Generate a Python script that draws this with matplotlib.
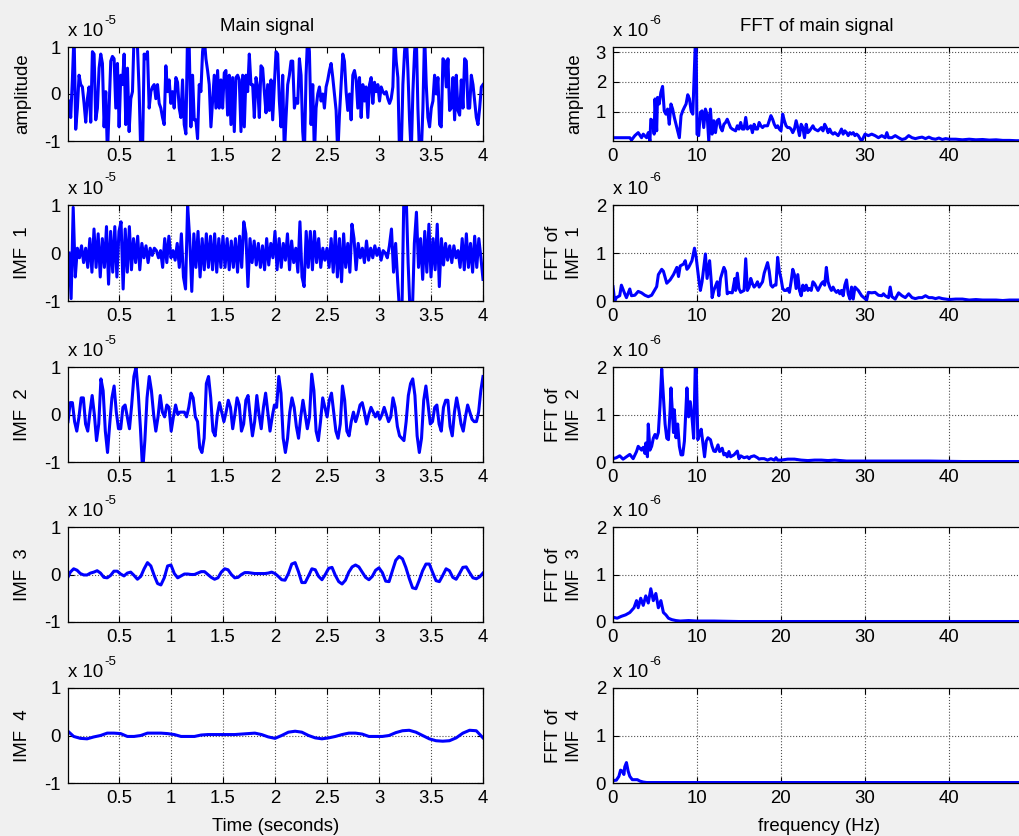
import numpy as np
import matplotlib.pyplot as plt

plt.rcParams['font.family'] = ['Liberation Sans', 'DejaVu Sans']
plt.rcParams['font.size'] = 13.4
plt.rcParams['axes.unicode_minus'] = False

# ---- time signals (units of 1e-5) ----
main_sig = [-0.15, -0.5, 0.3, 1.3, -0.75, -0.3, 0.4, 0.2, 0.15, -0.2,
            -0.6, -0.1, 0.15, -0.6, 0.9, 0.85, -0.55, -0.3, 0.55, 0.85,
            0.65, -0.7, 0.05, -1.3, -0.3, 0.7, 0.8, 0.75, -0.3, 0.65,
            -0.7, 0.4, 0.2, 0.85, -0.65, 0.55, -0.8, -0.1, 0.05, 1.3,
            1.3, 1.0, 0.05, -1.3, -1.3, 0.85, 0.75, 0.9, -0.3, 0.05,
            0.15, 0.2, -0.1, 0.2, -0.2, -0.3, -0.5, -0.65, 0.6, 0.05,
            0.3, -0.2, 0.05, -0.3, 0.35, 0.25, -0.3, -0.5, 0.3, -0.65,
            -0.85, 1.3, 1.0, -0.7, 0.4, -0.55, -0.55, -0.95, 0.2, 0.05,
            0.9, 1.2, 0.75, 0.5, 0.2, -0.7, -0.15, 0.4, -0.3, 0.5,
            -0.3, 0.3, -0.3, 0.45, 0.5, -0.45, 0.4, -0.65, 0.35, -0.8,
            0.35, 0.4, 0.3, -0.8, 0.4, -0.7, 0.4, 0.05, 0.85, 0.2,
            0.2, -0.5, 0.35, 0.15, -0.5, 0.6, 0.55, 0.05, -0.4, 0.2,
            -0.35, 0.3, -0.55, 0.2,
            0.9, 0.85, -0.15, -0.7, 0.4, -1.3, -0.5, 0.2, 0.4, 0.7,
            0.7, -0.3, -0.1, -0.2, 0.75, 0.4, -0.8, -1.3, 0.4, 1.3,
            0.9, -0.65, 0.2, -1.3, -0.3, 0.0, 0.15, -0.15, 0.0, -0.3,
            0.15, 0.3, 0.5, 0.65, 0.35, 0.0, -0.35, -1.3, -0.45, 0.2,
            0.85, 0.7, 0.05, -0.35, 0.0, -0.55, 0.4, 0.5, 0.3, -0.3,
            0.35, -0.5, 0.2, -0.15, 0.15, -0.5, 0.2, 0.35, -0.2, 0.25,
            0.05, 0.2, -0.15, 0.15, 0.05, 0.0, 0.05, -0.1, -0.2, -0.1,
            0.15, 1.3, 0.7, 0.35, -1.3, -1.3, 0.2, 0.9, 1.3, 0.5,
            -0.55, -1.3, 0.05, 0.9, 1.3, -0.3, -1.3, -1.3, -0.3, 1.3,
            0.2, -0.5, -0.7, -0.3, -0.15, 0.4, 0.0, 0.35, -0.65, -0.7,
            0.75, 0.7, 0.15, 0.75, -0.35, -0.3, 0.35, -0.55, 0.4, -0.35,
            -0.45, 0.3, -0.3, 0.75, 0.7, -0.3, -0.3, 0.4, 0.2, -0.15,
            -0.5, -0.65, -0.3, 0.15, 0.2]

imf1 = [0.0, -0.95, 0.95, -0.5, 0.1, -0.1, 0.15, -0.2, 0.1, -0.3,
        0.3, -0.4, 0.5, -0.3, 0.4, -0.5, 0.3, -0.3, 0.55, -0.65,
        0.45, -0.4, 0.55, -0.5, 0.45, 0.65, -0.75, 0.5, -0.4, 0.55,
        -0.35, 0.3, -0.2, 0.35, -0.35, 0.2, -0.1, 0.15, -0.2, 0.1,
        -0.05, 0.1, 0.05, -0.1, 0.05, -0.3, 0.3, -0.2, 0.35, -0.1,
        0.05, -0.15, 0.2, -0.3, 0.4, -0.5, -0.75, 1.0, 0.3, -0.8,
        0.4, -0.3, 0.45, -0.5, 0.3, -0.35, 0.4, -0.3, 0.35, -0.35,
        0.4, -0.4, 0.3, -0.3, 0.35, -0.3, 0.3, -0.35, 0.25, -0.3,
        0.3, -0.4, 0.35, -0.3, 0.65, 0.4, -0.7, 0.3, -0.2, 0.25,
        -0.25, 0.2, -0.3, 0.15, -0.35, 0.3, -0.25, 0.2, -0.1, 0.45,
        -0.35, 0.3, -0.3, 0.2, -0.15, 0.4, -0.35, 0.25, -0.2, 0.1,
        -0.4, 0.65, -0.5, -0.7, 0.45, -0.3, 0.45, -0.35, 0.45, -0.2,
        0.3, -0.3, 0.1, -0.15, 0.1, -0.3, 0.3, -0.4, 0.45, -0.5,
        0.3, -0.6, 0.4, -0.3, 0.2, -0.4, 0.6, 0.3, -0.35, 0.2,
        -0.1, 0.1, -0.2, 0.25, -0.15, 0.1, -0.1, 0.15, -0.05, 0.1,
        -0.15, 0.05, 0.0, -0.1, 0.15, 0.5, -0.4, 0.2, -0.6, -1.3,
        -1.3, 1.3, 1.3, -0.2, -1.3, -1.3, 0.2, 0.85, -0.3, 0.3,
        -0.55, 0.45, -0.4, 0.6, -0.5, 0.3, -0.35, 0.6, -0.7, 0.3,
        -0.25, 0.2, -0.15, 0.15, -0.2, 0.15, -0.1, 0.05, -0.3, 0.3,
        -0.35, 0.4, -0.3, 0.2, -0.4, 0.35, -0.3, 0.3, -0.1, -0.55]

imf2 = [-0.15, 0.25, 0.25, -0.15, -0.35, -0.05, 0.35, 0.35, -0.2, -0.35,
        0.05, 0.4, 0.0, -0.55, -0.2, 0.75, 0.5, -0.35, -0.8, -0.2,
        0.35, 0.6, 0.05, -0.3, -0.3, 0.15, 0.2, -0.05, -0.3, 0.2,
        0.8, 1.0, 0.45, -0.3, -1.2, -0.55, 0.35, 0.8, 0.5, 0.0,
        -0.35, -0.05, 0.4, 0.05, -0.05, 0.2, 0.15, -0.35, -0.05, 0.2,
        0.0, 0.05, 0.05, 0.05, -0.05, 0.15, 0.45, 0.35, -0.05, -0.15,
        -0.7, -0.8, -0.5, 0.65, 0.8, 0.35, -0.35, -0.45, 0.0, 0.25,
        0.05, -0.15, 0.05, 0.3, 0.15, -0.3, 0.0, 0.35, 0.2, -0.35,
        -0.2, 0.3, 0.4, -0.05, -0.45, -0.15, 0.4, 0.0, -0.3, 0.15,
        0.45, 0.05, -0.35, -0.05, 0.2, 0.15, 0.8, 0.45, -0.5, -0.8,
        -0.5, 0.05, 0.35, 0.15, -0.25, -0.5, -0.05, 0.3, 0.0, -0.3,
        -0.05, 0.85, 0.5, -0.35, -0.55, -0.15, 0.35, 0.15, -0.05, 0.3,
        0.45, 0.05, -0.35, -0.5, -0.2, 0.6, 0.3, -0.35, -0.45, -0.15,
        0.05, -0.15, 0.0, 0.2, 0.25, 0.05, -0.2, 0.0, 0.15, 0.05,
        -0.05, 0.05, -0.1, 0.0, 0.15, 0.0, -0.15, -0.05, 0.35, 0.15,
        -0.25, -0.45, -0.5, -0.55, -0.15, 0.4, 0.65, 0.75, 0.4, -0.45,
        -0.8, -0.5, 0.3, 0.6, 0.2, -0.2, -0.15, 0.15, 0.2, -0.2,
        -0.35, 0.15, 0.3, 0.3, -0.25, -0.45, 0.05, 0.35, 0.1, -0.2,
        -0.35, -0.05, 0.2, 0.05, -0.1, -0.15, -0.15, 0.05, 0.5, 0.8]

imf3 = [-0.10, 0.05, 0.12, 0.09, 0.02, -0.01, -0.01, 0.03, 0.05, 0.08,
        0.03, -0.06, -0.07, -0.02, 0.07, 0.07, 0.01, -0.03, 0.03, 0.05,
        -0.02, -0.10, -0.04, 0.12, 0.25, 0.18, -0.02, -0.19, -0.22, -0.07,
        0.18, 0.20, 0.02, -0.07, -0.03, 0.01, 0.01, 0.00, 0.00, 0.03,
        0.06, 0.06, 0.00, -0.06, -0.10, -0.07, 0.05, 0.12, 0.10, 0.00,
        -0.07, -0.06, 0.00, 0.04, 0.04, 0.03, 0.02, 0.02, 0.02, 0.02,
        0.03, 0.05, 0.02, -0.04, -0.11, -0.12, 0.02, 0.22, 0.25, 0.06,
        -0.17, -0.17, -0.03, 0.12, 0.10, -0.04, -0.11, 0.00, 0.13, 0.15,
        -0.02, -0.15, -0.20, -0.12, 0.05, 0.16, 0.20, 0.16, 0.05, -0.06,
        -0.11, -0.04, 0.09, 0.14, 0.04, -0.14, -0.15, 0.08, 0.30, 0.38,
        0.33, 0.15, -0.08, -0.28, -0.30, -0.12, 0.08, 0.22, 0.22, 0.04,
        -0.13, -0.15, -0.02, 0.12, 0.08, -0.06, -0.10, 0.02, 0.15, 0.16,
        0.04, -0.07, -0.09, -0.05, 0.03]

imf4 = [0.11, -0.02, -0.06, -0.07, -0.03, 0.00, 0.05, 0.05, 0.04, -0.02,
        -0.02, 0.00, 0.05, 0.05, 0.05, 0.04, 0.02, -0.02, -0.02, -0.02,
        0.01, 0.02, 0.02, 0.02, 0.02, 0.02, 0.03, 0.04, 0.05, 0.02,
        -0.03, -0.06, 0.00, 0.07, 0.09, 0.07, 0.00, -0.05, -0.07, -0.05,
        -0.02, 0.02, 0.05, 0.05, 0.03, -0.02, -0.02, -0.02, 0.00, 0.06,
        0.10, 0.11, 0.07, 0.00, -0.07, -0.11, -0.12, -0.11, -0.05, 0.05,
        0.11, 0.10, -0.05]

t_main = np.linspace(0.02, 4.0, len(main_sig))
t_imf1 = np.linspace(0.02, 4.0, len(imf1))
t_imf2 = np.linspace(0.01, 4.0, len(imf2))
t_imf3 = np.linspace(0.0, 4.0, len(imf3))
t_imf4 = np.linspace(0.0, 4.0, len(imf4))

# ---- spectra (units of 1e-6) ----
f_main = [0, 2.0, 2.2, 2.6, 3.0, 3.4, 3.6, 4.0, 4.2, 4.4, 4.5, 4.7, 4.9, 5.0,
          5.2, 5.3, 5.5, 5.7, 5.9, 6.1, 6.3, 6.5, 6.7, 6.9, 7.1, 7.3, 7.5,
          7.7, 7.9, 8.1, 8.3, 8.5, 8.7, 8.9, 9.1, 9.3, 9.5, 9.7, 9.8, 9.9,
          10.0, 10.2, 10.4, 10.6, 10.8, 11.0, 11.2, 11.4, 11.6, 11.8, 12.0,
          12.2, 12.4, 12.6, 12.8, 13.0, 13.2, 13.4, 13.6, 14.0, 14.2, 14.6,
          14.8, 15.0, 15.2, 15.4, 15.6, 15.8, 16.0, 16.2, 16.4, 16.6, 16.8,
          17.0, 17.2, 17.4, 17.6, 17.8, 18.0, 18.4, 18.8, 19.0, 19.2, 19.4,
          19.6, 19.8, 20.0, 20.2, 20.4, 20.6, 20.8, 21.0, 21.2, 21.4, 21.6,
          21.8, 22.0, 22.2, 22.4, 22.6, 22.8, 23.0, 23.2, 23.4, 23.8, 24.0,
          24.4, 24.8, 25.0, 25.2, 25.4, 25.6, 25.8, 26.0, 26.2, 26.4, 26.6,
          26.8, 27.0, 27.2, 27.4, 27.6, 27.8, 28.0, 28.2, 28.4, 28.6, 28.8,
          29.0, 29.2, 29.4, 29.6, 29.8, 30.0, 30.4, 30.8, 31.2, 31.6, 32.0,
          32.4, 32.6, 32.8, 33.2, 33.6, 34.0, 34.4, 34.8, 35.2, 35.6, 36.0,
          36.4, 36.8, 37.2, 37.6, 38.0, 38.4, 38.8, 39.2, 39.6, 40.0, 40.8,
          41.6, 42.4, 43.2, 44.0, 44.8, 45.6, 46.4, 47.2, 48.0, 49.0, 50.0]
a_main = [0.13, 0.13, 0.05, 0.2, 0.3, 0.13, 0.25, 0.13, 0.3, 0.02, 0.75, 0.7,
          0.25, 1.43, 0.36, 1.48, 1.26, 1.65, 1.85, 1.03, 0.92, 1.09, 0.58,
          1.26, 1.09, 0.81, 0.58, 0.36, 0.13, 0.87, 1.03, 1.15, 1.26, 1.57,
          1.43, 1.03, 0.92, 2.5, 3.3, 3.3, 0.25, 0.2, 0.98, 1.03, 0.47, 1.09,
          0.92, 0.02, 1.09, 0.25, 0.7, 0.3, 0.7, 0.75, 0.47, 0.36, 0.58, 0.64,
          0.75, 0.47, 0.42, 0.36, 0.53, 0.42, 0.64, 0.42, 0.42, 0.81, 0.42,
          0.47, 0.53, 0.3, 0.58, 0.42, 0.42, 0.64, 0.53, 0.47, 0.53, 0.53,
          0.87, 0.75, 0.58, 0.47, 0.53, 0.42, 0.36, 0.92, 0.7, 0.53, 0.47,
          0.47, 0.42, 0.3, 0.42, 0.7, 0.47, 0.2, 0.58, 0.47, 0.13, 0.58, 0.3,
          0.36, 0.53, 0.42, 0.36, 0.47, 0.36, 0.58, 0.47, 0.3, 0.42, 0.3,
          0.25, 0.3, 0.25, 0.2, 0.3, 0.42, 0.25, 0.36, 0.3, 0.2, 0.3, 0.25,
          0.3, 0.2, 0.25, 0.2, 0.1, 0.02, 0.13, 0.25, 0.2, 0.25, 0.2, 0.13,
          0.2, 0.13, 0.3, 0.13, 0.13, 0.2, 0.13, 0.07, 0.1, 0.2, 0.13, 0.1,
          0.13, 0.15, 0.1, 0.15, 0.1, 0.08, 0.12, 0.07, 0.1, 0.08, 0.08,
          0.06, 0.08, 0.06, 0.07, 0.05, 0.06, 0.04, 0.04, 0.03, 0.03, 0.03]

f_imf1 = [0, 0.2, 0.4, 0.8, 1.0, 1.4, 1.6, 2.0, 2.2, 2.6, 3.0, 3.4, 3.8, 4.2,
          4.6, 4.8, 5.2, 5.4, 5.8, 6.0, 6.4, 6.8, 7.2, 7.6, 7.8, 8.0, 8.4,
          8.6, 8.8, 9.0, 9.4, 9.7, 9.9, 10.2, 10.4, 10.6, 11.0, 11.2, 11.5,
          11.7, 11.8, 12.0, 12.4, 12.6, 12.8, 13.2, 13.4, 13.6, 13.8, 14.2,
          14.5, 14.6, 14.8, 15.0, 15.2, 15.6, 15.8, 16.0, 16.2, 16.4, 16.6,
          16.8, 17.0, 17.2, 17.4, 17.8, 18.0, 18.4, 18.6, 18.8, 19.0, 19.2,
          19.4, 19.6, 19.8, 20.0, 20.2, 20.4, 20.6, 20.8, 21.0, 21.2, 21.4,
          21.6, 21.8, 22.0, 22.2, 22.4, 22.6, 22.8, 23.0, 23.2, 23.4, 23.6,
          23.8, 24.0, 24.2, 24.4, 24.6, 24.8, 25.0, 25.2, 25.4, 25.6, 25.8,
          26.0, 26.2, 26.4, 26.6, 26.8, 27.0, 27.2, 27.4, 27.6, 27.8, 28.0,
          28.2, 28.4, 28.6, 28.8, 29.2, 29.6, 30.0, 30.2, 30.4, 30.8, 31.2,
          31.6, 32.0, 32.2, 32.4, 32.8, 33.0, 33.2, 33.6, 34.0, 34.4, 34.8,
          35.2, 35.6, 36.0, 36.4, 36.8, 37.2, 37.6, 38.0, 38.4, 38.8, 39.2,
          39.6, 40.0, 40.8, 41.6, 42.4, 43.2, 44.0, 44.8, 45.6, 46.4, 47.2,
          48.0, 48.8, 50.0]
a_imf1 = [0.3, 0.0, 0.07, 0.11, 0.33, 0.15, 0.07, 0.25, 0.11, 0.12, 0.2,
          0.17, 0.12, 0.09, 0.12, 0.18, 0.3, 0.55, 0.66, 0.62, 0.37, 0.44,
          0.55, 0.7, 0.51, 0.73, 0.77, 0.84, 0.66, 0.7, 0.84, 1.1, 0.91,
          0.47, 0.22, 0.4, 0.98, 0.47, 0.84, 0.4, 0.07, 0.22, 0.4, 0.11,
          0.47, 0.7, 0.62, 0.15, 0.18, 0.17, 0.47, 0.22, 0.58, 0.26, 0.18,
          0.22, 0.88, 0.22, 0.29, 0.47, 0.36, 0.29, 0.33, 0.4, 0.29, 0.4,
          0.58, 0.8, 0.62, 0.33, 0.29, 0.33, 0.33, 0.91, 0.62, 0.47, 0.26,
          0.22, 0.22, 0.26, 0.18, 0.4, 0.66, 0.55, 0.26, 0.55, 0.22, 0.11,
          0.33, 0.22, 0.33, 0.22, 0.26, 0.22, 0.4, 0.36, 0.29, 0.22, 0.29,
          0.36, 0.4, 0.33, 0.7, 0.4, 0.29, 0.22, 0.29, 0.22, 0.18, 0.22,
          0.15, 0.22, 0.11, 0.33, 0.44, 0.15, 0.04, 0.29, 0.04, 0.29, 0.22,
          0.11, 0.05, 0.02, 0.18, 0.17, 0.18, 0.12, 0.11, 0.15, 0.11, 0.07,
          0.29, 0.09, 0.04, 0.17, 0.11, 0.07, 0.15, 0.07, 0.05, 0.07, 0.07,
          0.11, 0.07, 0.07, 0.05, 0.07, 0.05, 0.04, 0.03, 0.04, 0.04, 0.02,
          0.03, 0.02, 0.02, 0.02, 0.01, 0.02, 0.02, 0.02, 0.02]

f_imf2 = [0, 0.4, 0.8, 1.2, 1.6, 2.0, 2.4, 2.8, 3.0, 3.2, 3.4, 3.6, 3.8, 3.9,
          4.1, 4.2, 4.4, 4.6, 4.8, 5.0, 5.2, 5.4, 5.6, 5.8, 6.0, 6.2, 6.4,
          6.6, 6.8, 6.9, 7.1, 7.2, 7.3, 7.5, 7.7, 7.9, 8.1, 8.3, 8.5, 8.8,
          9.0, 9.2, 9.4, 9.6, 9.8, 9.9, 10.1, 10.3, 10.5, 10.7, 10.9, 11.1,
          11.3, 11.6, 11.8, 12.0, 12.2, 12.5, 12.7, 13.0, 13.2, 13.4, 13.6,
          13.8, 14.0, 14.4, 14.8, 15.0, 15.2, 15.6, 16.0, 16.2, 16.4, 16.8,
          17.2, 17.4, 17.6, 18.0, 18.4, 18.8, 19.2, 19.4, 19.6, 20.0, 20.8,
          21.6, 22.4, 23.2, 24.0, 24.8, 25.6, 26.4, 27.8, 29.6, 31.6, 33.6,
          37.6, 41.6, 45.6, 50.0]
a_imf2 = [0.07, 0.09, 0.13, 0.06, 0.11, 0.16, 0.07, 0.22, 0.33, 0.29, 0.25,
          0.31, 0.18, 0.4, 0.11, 0.8, 0.25, 0.33, 0.5, 0.58, 0.5, 0.62, 1.2,
          1.96, 1.38, 0.8, 0.5, 0.47, 1.1, 1.56, 0.95, 0.62, 1.1, 0.51, 0.8,
          0.33, 0.15, 0.15, 0.44, 1.56, 0.95, 1.27, 0.95, 0.5, 2.05, 2.05,
          0.47, 0.58, 0.69, 0.4, 0.11, 0.44, 0.51, 0.47, 0.33, 0.23, 0.22,
          0.36, 0.22, 0.29, 0.15, 0.18, 0.11, 0.22, 0.11, 0.15, 0.23, 0.07,
          0.13, 0.09, 0.11, 0.07, 0.11, 0.13, 0.09, 0.06, 0.07, 0.07, 0.04,
          0.07, 0.04, 0.09, 0.04, 0.04, 0.06, 0.06, 0.04, 0.03, 0.04, 0.04,
          0.03, 0.04, 0.02, 0.02, 0.02, 0.02, 0.02, 0.01, 0.01, 0.01]

f_imf3 = [0, 0.5, 1.0, 1.5, 2.0, 2.5, 2.8, 3.0, 3.3, 3.6, 3.9, 4.2, 4.5, 4.8,
          5.1, 5.4, 5.7, 6.0, 6.3, 6.6, 7.0, 7.5, 8.0, 9.0, 10.0, 12.0, 15.0,
          20.0, 30.0, 50.0]
a_imf3 = [0.1, 0.08, 0.12, 0.15, 0.2, 0.3, 0.45, 0.3, 0.5, 0.35, 0.55, 0.4,
          0.7, 0.45, 0.6, 0.3, 0.45, 0.2, 0.15, 0.08, 0.05, 0.03, 0.02, 0.03,
          0.02, 0.02, 0.01, 0.01, 0.01, 0.01]

f_imf4 = [0, 0.4, 0.7, 0.9, 1.1, 1.3, 1.4, 1.6, 1.8, 2.0, 2.3, 2.6, 2.9, 3.2,
          3.6, 4.0, 10.0, 50.0]
a_imf4 = [0.05, 0.06, 0.14, 0.27, 0.25, 0.18, 0.34, 0.43, 0.25, 0.14, 0.07,
          0.07, 0.07, 0.04, 0.02, 0.01, 0.01, 0.01]

time_rows = [(t_main, main_sig, 'amplitude'), (t_imf1, imf1, 'IMF  1'),
             (t_imf2, imf2, 'IMF  2'), (t_imf3, imf3, 'IMF  3'),
             (t_imf4, imf4, 'IMF  4')]
freq_rows = [(f_main, a_main, 'amplitude'), (f_imf1, a_imf1, 'FFT of\nIMF  1'),
             (f_imf2, a_imf2, 'FFT of\nIMF  2'), (f_imf3, a_imf3, 'FFT of\nIMF  3'),
             (f_imf4, a_imf4, 'FFT of\nIMF  4')]

W, H = 1020, 836
row_top = [47, 205, 367, 527, 688]
row_bot = [141, 301, 462, 622, 783]

fig = plt.figure(figsize=(W / 100, H / 100), dpi=100, facecolor='#f0f0f0')


def make_ax(x0, x1, top, bot):
    ax = fig.add_axes([x0 / W, 1 - bot / H, (x1 - x0) / W, (bot - top) / H])
    ax.set_facecolor('white')
    for s in ax.spines.values():
        s.set_linewidth(0.9)
        s.set_color('black')
    ax.tick_params(direction='in', top=True, right=True, length=4,
                   width=0.8, pad=5, labelsize=13.4)
    ax.set_axisbelow(True)
    return ax


def style_grid(ax):
    ax.grid(True, linestyle=':', color='#505050', linewidth=0.8)


def exponent(ax, exp, width_px):
    # MATLAB-style "x 10^-5" multiplier above the axes
    ax.text(0.0, 1.117, 'x 10', transform=ax.transAxes,
            ha='left', va='baseline')
    ax.text(36 / width_px, 1.245, exp, transform=ax.transAxes,
            ha='left', va='baseline', fontsize=9.5)


for i, (t, y, lab) in enumerate(time_rows):
    ax = make_ax(68, 483, row_top[i], row_bot[i])
    ax.plot(t, y, color='#0000ff', lw=2.2)
    ax.set_xlim(0.01, 4.0)
    ax.set_ylim(-1, 1)
    ax.set_xticks([0.5, 1, 1.5, 2, 2.5, 3, 3.5, 4])
    ax.set_xticklabels(['0.5', '1', '1.5', '2', '2.5', '3', '3.5', '4'])
    ax.set_yticks([-1, 0, 1])
    ax.set_yticklabels(['-1', '0', '1'])
    if i > 0:
        style_grid(ax)
    ax.set_ylabel(lab)
    ax.yaxis.set_label_coords(-0.088, 0.5)
    exponent(ax, '-5', 415)
    if i == 0:
        ax.text(0.48, 1.17, 'Main signal', transform=ax.transAxes,
                ha='center', va='baseline')
    if i == 4:
        ax.text(0.5, -0.37, 'Time (seconds)', transform=ax.transAxes,
                ha='center', va='top')

for i, (f, a, lab) in enumerate(freq_rows):
    ax = make_ax(613, 1033, row_top[i], row_bot[i])
    ax.plot(f, a, color='#0000ff', lw=2.2)
    ax.set_xlim(0, 50)
    ax.set_xticks([0, 10, 20, 30, 40])
    if i == 0:
        ax.set_ylim(0.02, 3.17)
        ax.set_yticks([1, 2, 3])
    else:
        ax.set_ylim(0, 2)
        ax.set_yticks([0, 1, 2])
    style_grid(ax)
    ax.set_ylabel(lab, linespacing=1.3)
    ax.yaxis.set_label_coords(-0.072, 0.5)
    exponent(ax, '-6', 420)
    if i == 0:
        ax.text(0.486, 1.17, 'FFT of main signal', transform=ax.transAxes,
                ha='center', va='baseline')
    if i == 4:
        ax.text(0.49, -0.37, 'frequency (Hz)', transform=ax.transAxes,
                ha='center', va='top')

fig.savefig('out.png', dpi=100, facecolor=fig.get_facecolor())
